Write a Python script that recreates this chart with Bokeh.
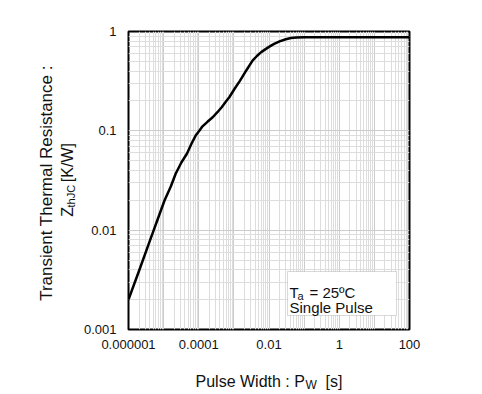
import math
from bokeh.plotting import figure
from bokeh.layouts import column, row
from bokeh.models import FixedTicker, BoxAnnotation, Range1d, Label
from bokeh.core.properties import value
from bokeh.embed import file_html
from bokeh.resources import INLINE

# ---- data ----
pulse_width = [1e-6, 2e-6, 4e-6, 1.06e-5, 1.6e-5, 2.2e-5, 3.2e-5, 4.6e-5, 6.3e-5,
               8.3e-5, 1.05e-4, 1.28e-4, 1.8e-4, 2.5e-4, 3.4e-4, 4.5e-4, 5.8e-4,
               7.4e-4, 1.05e-3, 1.5e-3, 2.3e-3, 3.4e-3, 4.6e-3, 6e-3, 8e-3,
               1.0e-2, 1.4e-2, 2e-2, 3e-2, 4.2e-2, 6e-2, 0.1, 1, 10, 100]
zth_jc = [0.002, 0.0039, 0.0077, 0.0199, 0.0275, 0.037, 0.048, 0.0588, 0.075,
          0.0905, 0.101, 0.111, 0.124, 0.137, 0.154, 0.173, 0.195,
          0.218, 0.265, 0.32, 0.41, 0.51, 0.57, 0.62, 0.665,
          0.70, 0.75, 0.795, 0.835, 0.86, 0.872, 0.875, 0.875, 0.875, 0.875]

x_ticks = [1e-6, 1e-5, 1e-4, 1e-3, 1e-2, 1e-1, 1, 10, 100]
x_tick_labels = ["0.000001", "", "0.0001", "", "0.01", "", "1", "", "100"]
y_ticks = [0.001, 0.01, 0.1, 1]
y_tick_labels = ["0.001", "0.01", "0.1", "1"]

y_title_1 = "Transient Thermal Resistance :"
y_title_2 = ["Z", "thJC", "[K/W]"]
x_title = ["Pulse Width : P", "W", "[s]"]
cond_line_1 = ["T", "a", "= 25ºC"]
cond_line_2 = "Single Pulse"

FONT = "Liberation Sans"
TXT = "#111111"

# layout geometry (canvas pixels)
W, H = 480, 392
LW = 80                      # width of the left title strip
FL, FR, FT, FB = 126, 407, 31, 329
MAIN_H = 354                 # height of the main plot canvas
BOT_H = H - MAIN_H


def X(px):
    return 10 ** (-6 + (px - FL) * 8 / (FR - FL))


def Y(py):
    return 10 ** (-3 + (FB - py) * 3 / (FB - FT))


p = figure(x_axis_type="log", y_axis_type="log",
           x_range=(1e-6, 100), y_range=(1e-3, 1),
           frame_width=FR - FL, frame_height=FB - FT,
           min_border_left=FL - LW, min_border_top=FT,
           min_border_right=W - FR, min_border_bottom=MAIN_H - FB,
           output_backend="svg", toolbar_location=None)

x_minor = [m * 10 ** e for e in range(-6, 2) for m in range(2, 10)]
y_minor = [m * 10 ** e for e in range(-3, 0) for m in range(2, 10)]
p.xaxis.ticker = FixedTicker(ticks=x_ticks, minor_ticks=x_minor)
p.yaxis.ticker = FixedTicker(ticks=y_ticks, minor_ticks=y_minor)
p.xaxis.major_label_overrides = {t: l for t, l in zip(x_ticks, x_tick_labels)}
p.yaxis.major_label_overrides = {t: l for t, l in zip(y_ticks, y_tick_labels)}

for ax in (p.xaxis, p.yaxis):
    ax.axis_line_color = None
    ax.major_tick_line_color = None
    ax.minor_tick_line_color = None
    ax.major_tick_out = 0
    ax.minor_tick_out = 0
    ax.major_tick_in = 0
    ax.minor_tick_in = 0
    ax.major_label_text_font = FONT
    ax.major_label_text_font_size = "13px"
    ax.major_label_text_color = TXT
p.xaxis.major_label_standoff = 10
p.yaxis.major_label_standoff = 12

for g in (p.xgrid, p.ygrid):
    g.grid_line_color = "#cccccc"
    g.grid_line_width = 1
    g.minor_grid_line_color = "#dddddd"
    g.minor_grid_line_width = 1

p.outline_line_color = "black"
p.outline_line_width = 2
p.background_fill_color = "white"
p.border_fill_color = "white"

p.line(pulse_width, zth_jc, line_color="black", line_width=2.5)

# condition box
p.add_layout(BoxAnnotation(left=X(285), right=X(394), top=Y(271), bottom=Y(315),
                           fill_color="white", fill_alpha=1,
                           line_color="#808080", line_width=1))


def lab(px, py, text, size):
    p.add_layout(Label(x=X(px), y=Y(py), text=text, text_font=FONT,
                       text_font_size=f"{size}px", text_color=TXT,
                       text_align="left", text_baseline="alphabetic"))


for px, py, t, s in zip([287, 295, 307], [292, 295, 292], cond_line_1, [15, 11, 15]):
    lab(px, py, t, s)
lab(287, 307, cond_line_2, 15)


def ptxt(fig, xs, ys, texts, sizes, angle=0, align="left"):
    for x, y, t, s in zip(xs, ys, texts, sizes):
        fig.text([x], [y], text=[t], text_font=value(FONT),
                 text_font_size=f"{s}px", text_color=TXT, angle=angle,
                 text_align=align, text_baseline="alphabetic")


def text_strip(width, height):
    f = figure(width=width, height=height, x_range=Range1d(0, width),
               y_range=Range1d(height, 0), min_border=0,
               x_axis_location=None, y_axis_location=None,
               output_backend="svg", toolbar_location=None)
    f.grid.visible = False
    f.outline_line_color = None
    f.background_fill_color = "white"
    f.border_fill_color = "white"
    return f


# left strip: y axis title (rotated)
left = text_strip(LW, MAIN_H)
ang = math.pi / 2
ptxt(left, [46], [180], [y_title_1], [17], angle=ang, align="center")
ptxt(left, [67, 70, 67], [220, 209, 179], y_title_2, [16, 11, 16], angle=ang)

# bottom strip: x axis title
bottom = text_strip(W, BOT_H)
ptxt(bottom, [195, 305, 325], [381 - MAIN_H, 384 - MAIN_H, 381 - MAIN_H],
     x_title, [16, 12, 16])

layout = column(row(left, p, spacing=0), bottom, spacing=0)
open("out.html", "w").write(file_html(layout, INLINE))
